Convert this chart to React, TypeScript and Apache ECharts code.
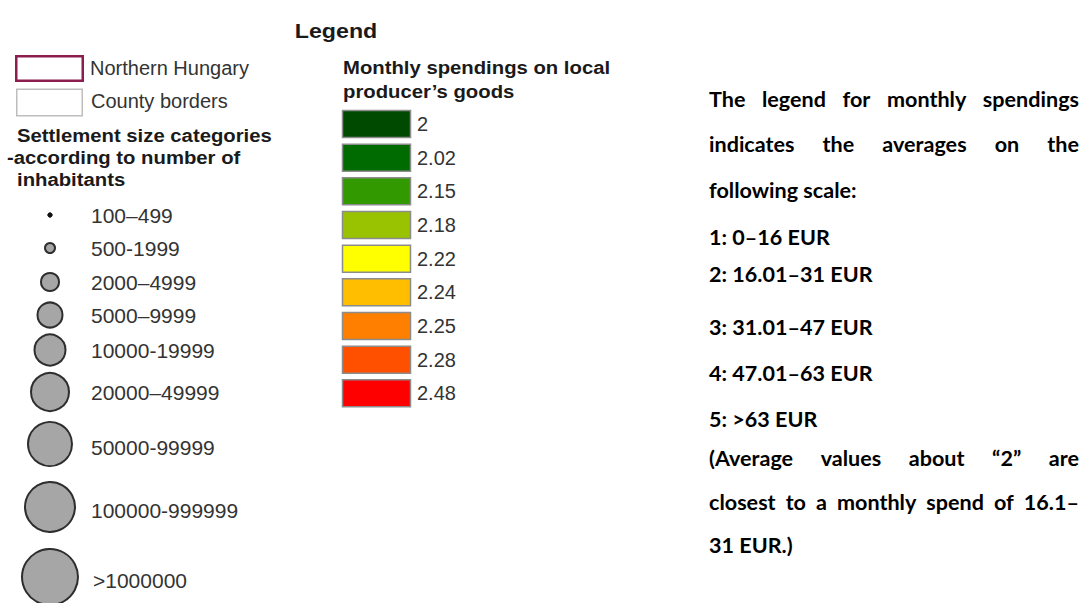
import React, { useEffect, useRef } from "react";
import * as echarts from "echarts";

// ---------- content ----------
const legendTitle = "Legend";
const boundaryLabels = ["Northern Hungary", "County borders"];
const sizeHeading = ["Settlement size categories", "-according to number of", "inhabitants"];
const sizeCategories = [
  "100–499",
  "500-1999",
  "2000–4999",
  "5000–9999",
  "10000-19999",
  "20000–49999",
  "50000-99999",
  "100000-999999",
  ">1000000",
];
const spendHeading = ["Monthly spendings on local", "producer’s goods"];
const spendValues = [2, 2.02, 2.15, 2.18, 2.22, 2.24, 2.25, 2.28, 2.48];
const scaleNote = [
  "The legend for monthly spendings",
  "indicates the averages on the",
  "following scale:",
  "1: 0–16 EUR",
  "2: 16.01–31 EUR",
  "3: 31.01–47 EUR",
  "4: 47.01–63 EUR",
  "5: >63 EUR",
  "(Average values about “2” are",
  "closest to a monthly spend of 16.1–",
  "31 EUR.)",
];

// ---------- layout & style ----------
const W = 1087;
const H = 603;
const ARIAL = "'Liberation Sans', Arial, Helvetica, sans-serif";
const CAL = "Lato, 'Noto Sans', sans-serif";
const BOLD_STRETCH = 1.16;
const spendColors = ["#004a00", "#006b00", "#339900", "#99c300", "#ffff00", "#ffbf00", "#ff8000", "#ff5000", "#ff0000"];
const circleY = [215, 248, 282, 315, 350, 392, 444, 507, 577];
const circleR = [2.2, 5, 9, 12.5, 15.5, 19, 22, 25, 28];
const noteY = [99, 144, 190, 237, 274, 327, 373, 419, 458, 502, 545];
const noteJustify = [true, true, false, false, false, false, false, false, true, true, false];
const NOTE_LEFT = 709;
const NOTE_RIGHT = 1079;
const NOTE_SIZE = 21.6;

function measure(text: string, font: string) {
  const c = document.createElement("canvas").getContext("2d")!;
  c.font = font;
  return c.measureText(text).width;
}

function txt(text: string, x: number, y: number, opts: any = {}) {
  const { size = 20, bold = false, family = ARIAL, fill = "#333", align = "left", scaleX = 1 } = opts;
  return {
    type: "text",
    x,
    y,
    scaleX,
    style: {
      text,
      fontSize: size,
      fontWeight: bold ? "bold" : "normal",
      fontFamily: family,
      fill,
      align,
      verticalAlign: "middle",
      textAlign: align,
      textVerticalAlign: "middle",
    },
  };
}

function buildElements() {
  const els: any[] = [];
  // title
  els.push(txt(legendTitle, 336, 31, { size: 20, bold: true, fill: "#1a1a1a", align: "center", scaleX: BOLD_STRETCH }));

  // boundary boxes
  els.push({ type: "rect", shape: { x: 16.25, y: 56.25, width: 66.5, height: 24.5 }, style: { fill: "#fff", stroke: "#8b1e4f", lineWidth: 2.5 } });
  els.push(txt(boundaryLabels[0], 90, 68, { size: 20 }));
  els.push({ type: "rect", shape: { x: 16.75, y: 89.25, width: 65.5, height: 26.5 }, style: { fill: "#fff", stroke: "#bdbdbd", lineWidth: 1.5 } });
  els.push(txt(boundaryLabels[1], 91, 101, { size: 20 }));

  // settlement heading
  const headX = [17, 7, 17];
  const headY = [136, 158, 180];
  sizeHeading.forEach((s, i) =>
    els.push(txt(s, headX[i], headY[i], { size: 17.5, bold: true, fill: "#1a1a1a", scaleX: BOLD_STRETCH }))
  );

  // circles
  sizeCategories.forEach((label, i) => {
    const first = i === 0;
    els.push({
      type: "circle",
      shape: { cx: 50, cy: circleY[i], r: circleR[i] },
      style: first
        ? { fill: "#111", stroke: "#111", lineWidth: 1 }
        : { fill: "#a6a6a6", stroke: "#2e2e2e", lineWidth: 2 },
    });
    els.push(txt(label, i === sizeCategories.length - 1 ? 93 : 91, circleY[i] + (i >= 6 ? 3 : 0), { size: 21 }));
  });

  // spend heading
  spendHeading.forEach((s, i) =>
    els.push(txt(s, 343, 68 + i * 24, { size: 17.5, bold: true, fill: "#1a1a1a", scaleX: BOLD_STRETCH }))
  );

  // swatches
  spendValues.forEach((v, i) => {
    const top = 110.5 + i * 33.67;
    els.push({
      type: "rect",
      shape: { x: 342.5, y: top, width: 68, height: 27 },
      style: { fill: spendColors[i], stroke: "#8c8c8c", lineWidth: 1.5 },
    });
    els.push(txt(String(v), 417, top + 13.5, { size: 20 }));
  });

  // note text on the right
  const font = `bold ${NOTE_SIZE}px Lato`;
  const refs: [string, number][] = [
    ["1: 0–16 EUR", 118],
    ["5: >63 EUR", 109],
    ["31 EUR.)", 85],
  ];
  let k = 0;
  refs.forEach(([s, w]) => (k += w / measure(s, font)));
  k = k / refs.length;
  if (!isFinite(k) || k <= 0) k = 1;

  scaleNote.forEach((line, i) => {
    const y = noteY[i];
    const o = { size: NOTE_SIZE, bold: true, family: CAL, fill: "#000", scaleX: k };
    if (noteJustify[i]) {
      const words = line.split(" ");
      const widths = words.map((w) => measure(w, font) * k);
      const total = widths.reduce((a, b) => a + b, 0);
      const gap = (NOTE_RIGHT - NOTE_LEFT - total) / (words.length - 1);
      let x = NOTE_LEFT;
      words.forEach((w, j) => {
        els.push(txt(w, x, y, o));
        x += widths[j] + gap;
      });
    } else {
      els.push(txt(line, NOTE_LEFT, y, o));
    }
  });

  return els;
}

export default function App() {
  const ref = useRef<HTMLDivElement>(null);
  useEffect(() => {
    document.body.style.margin = "0";
    if (!ref.current) return;
    const chart = echarts.init(ref.current, undefined, { renderer: "svg" });
    chart.setOption({
      animation: false,
      backgroundColor: "#ffffff",
      graphic: { elements: buildElements() },
    });
    return () => chart.dispose();
  }, []);
  return <div ref={ref} style={{ width: W, height: H }} />;
}
